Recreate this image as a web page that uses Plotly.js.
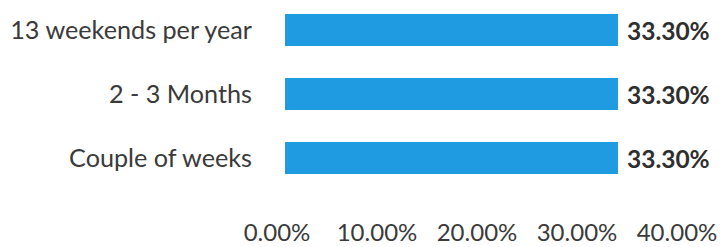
<!DOCTYPE html>
<html>
<head>
<meta charset="utf-8">
<script src="https://cdn.plot.ly/plotly-3.0.1.min.js"></script>
<style>
html,body{margin:0;padding:0;background:#fff;}
#chart{width:728px;height:247px;}
</style>
</head>
<body>
<div id="chart"></div>
<script>
// Categories listed bottom to top (Plotly category axis order)
const categories = ["Couple of weeks", "2 - 3 Months", "13 weekends per year"];
const values = [0.333, 0.333, 0.333];
const xTickValues = [0, 0.1, 0.2, 0.3, 0.4];

const trace = {
  type: "bar",
  orientation: "h",
  y: categories,
  x: values,
  width: 0.5,
  marker: {color: "#1f9ce1"},
  texttemplate: " %{x:.2%}",
  textposition: "outside",
  cliponaxis: false,
  textfont: {family: "Lato", size: 24.5, color: "#2f2f2f", weight: "bold"},
  hoverinfo: "none"
};

const layout = {
  width: 728,
  height: 247,
  margin: {l: 285, r: 43, t: 0, b: 57},
  paper_bgcolor: "#ffffff",
  plot_bgcolor: "#ffffff",
  showlegend: false,
  font: {family: "Lato", size: 24, color: "#3a3a3a"},
  xaxis: {
    range: [0, 0.4],
    tickvals: xTickValues,
    tickformat: ".2%",
    showgrid: false,
    zeroline: false,
    showline: false,
    ticks: "",
    ticklabelstandoff: 26,
    ticklabelshift: -8,
    tickfont: {family: "Lato", size: 24, color: "#3a3a3a"},
    fixedrange: true
  },
  yaxis: {
    type: "category",
    range: [-0.5, 2.47],
    showgrid: false,
    zeroline: false,
    showline: false,
    ticks: "",
    ticklabelstandoff: 32,
    tickfont: {family: "Lato", size: 25.2, color: "#3a3a3a"},
    fixedrange: true
  }
};

Plotly.newPlot("chart", [trace], layout, {displayModeBar: false, staticPlot: true});
</script>
</body>
</html>
